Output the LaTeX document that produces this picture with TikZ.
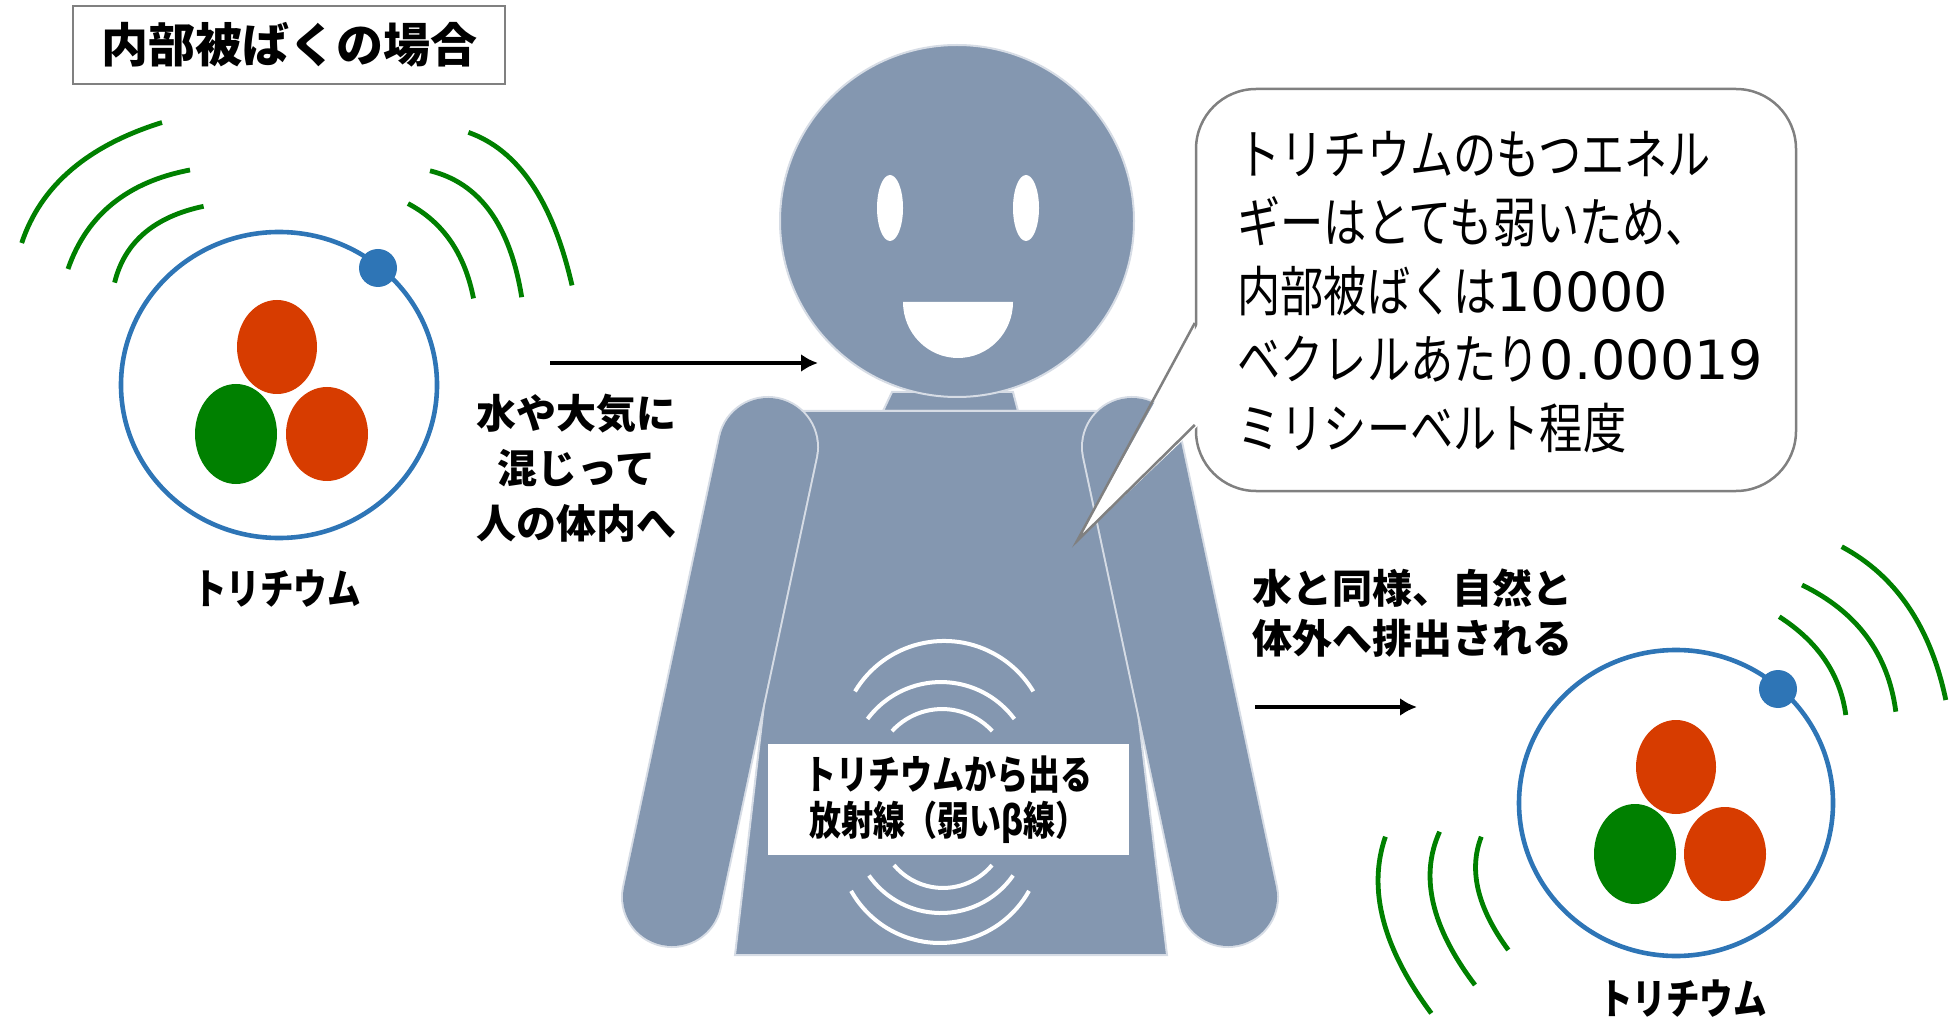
\documentclass[tikz,border=0pt]{standalone}
\usepackage{fontspec}
\usepackage{tikz}
\usetikzlibrary{arrows.meta,positioning}
\newfontfamily\jpfont{Noto Sans CJK JP}
\newfontfamily\jpnarrow{Noto Sans CJK JP}[FakeStretch=0.8]
\newfontfamily\numfont{DejaVu Sans}
\definecolor{BodySlate}{RGB}{132,151,176}
\definecolor{BodyEdge}{RGB}{214,220,229}
\definecolor{OrbitBlue}{RGB}{46,117,182}
\definecolor{ProtonRed}{RGB}{215,60,0}
\definecolor{NeutronGreen}{RGB}{0,128,0}
\definecolor{FrameGray}{RGB}{128,128,128}
\tikzset{
  titlebox/.style={draw=FrameGray,line width=1.25pt,minimum width=216pt,
    minimum height=39pt,inner sep=0pt,
    font=\jpfont\bfseries\fontsize{23.5}{28}\selectfont},
  orbit/.style={draw=OrbitBlue,line width=2.3pt},
  wave/.style={draw=NeutronGreen,line width=2.4pt},
  beta/.style={draw=white,line width=2pt},
  body/.style={fill=BodySlate,draw=BodyEdge,line width=1pt},
  armedge/.style={draw=BodyEdge,line width=51pt,line cap=round},
  armfill/.style={draw=BodySlate,line width=49pt,line cap=round},
  flow/.style={-{Latex[length=8.5pt,width=9pt]},line width=2pt,black}
}

\begin{document}
\begin{tikzpicture}[
  x=0.5pt,
  y=-0.5pt,
  atomname/.style={
    font=\jpnarrow\bfseries\fontsize{21}{25}\selectfont,
    inner sep=0pt
  },
  notetext/.style={
    font=\jpfont\bfseries\fontsize{20}{27.5}\selectfont,
    align=center,
    inner sep=0pt
  },
  bubble/.style={
    draw=FrameGray,
    fill=white,
    line width=1.25pt,
    rounded corners=30pt,
    minimum width=300pt,
    minimum height=201pt
  },
  bubbletext/.style={
    font=\jpnarrow\fontsize{27}{34.25}\selectfont,
    align=left,
    inner sep=0pt
  },
  betabox/.style={
    fill=white,
    minimum width=180.5pt,
    minimum height=55.5pt,
    inner sep=0pt,
    align=center,
    font=\jpnarrow\bfseries\fontsize{20}{23}\selectfont
  }
]
\useasboundingbox (0,0) rectangle (1954,1021);

% Heading
\node[titlebox] (title) at (289,45) {内部被ばくの場合};

% Atom on the left
\draw[wave] (21.7,243) .. controls (40.7,185.8) and (87.4,145.7) .. (162,122.5);
\draw[wave] (68,269) .. controls (86.8,214.8) and (127.5,181.8) .. (190,170);
\draw[wave] (114.6,282.6) .. controls (124.5,242.2) and (154.2,216.7) .. (203.6,206.3);
\draw[wave] (468.4,132.4) .. controls (518.1,149.9) and (552.7,200.9) .. (572,285.4);
\draw[wave] (430,170.8) .. controls (479.6,182.9) and (510.1,225.1) .. (521.7,297.2);
\draw[wave] (408,203.6) .. controls (443,222) and (464.8,253.6) .. (473.5,298.4);
\draw[orbit] (279,385) ellipse [x radius=158, y radius=153];
\fill[OrbitBlue] (378,268) circle [radius=19];
\fill[ProtonRed] (277,347) ellipse [x radius=40, y radius=47];
\fill[NeutronGreen] (236,434) ellipse [x radius=41, y radius=50];
\fill[ProtonRed] (327,434) ellipse [x radius=41, y radius=47];
\node[atomname] (tritiumA) at (277,589) {トリチウム};

% Way in
\coordinate (inA) at (550,363);
\coordinate (inB) at (818,363);
\draw[flow] (inA) -- (inB);
\node[notetext] (mixlabel) at (576,468) {水や大気に\\混じって\\人の体内へ};

% Person
\path[body] (883,411) -- (892,392) -- (1013,392) -- (1018,411) -- cycle;
\path[body] (957,221) ellipse [x radius=177, y radius=176];
\fill[white] (890,208) ellipse [x radius=13, y radius=33];
\fill[white] (1026,208) ellipse [x radius=13, y radius=33];
\fill[white] (903,302) -- (1013,302)
  arc [start angle=0, end angle=180, x radius=55, y radius=56] -- cycle;
\path[body] (798,411) -- (1102,411) -- (1167,955) -- (735,955) -- cycle;
\draw[armedge] (768,447) -- (672,897);
\draw[armfill] (768,447) -- (672,897);
\draw[armedge] (1132,447) -- (1228,897);
\draw[armfill] (1132,447) -- (1228,897);

% Weak beta rays inside the body
\draw[beta] (855,691.4) arc [start angle=-149, end angle=-31, radius=104];
\draw[beta] (867.5,719) arc [start angle=-143.4, end angle=-36.6, radius=91.5];
\draw[beta] (892,731.1) arc [start angle=-137.5, end angle=-42.5, radius=68];
\draw[beta] (992,865.1) arc [start angle=40, end angle=140, radius=64];
\draw[beta] (1013.1,875.5) arc [start angle=35, end angle=145, radius=88];
\draw[beta] (1029,890.9) arc [start angle=29.3, end angle=150.7, radius=102];
\node[betabox] (betanote) at (948.5,799.5) {トリチウムから出る\\放射線（弱いβ線）};

% Speech bubble
\node[bubble] (bubble) at (1496,290) {};
\coordinate (tailtop) at ([yshift=-16.5pt]bubble.west);
\coordinate (tailbot) at ([yshift=-67.5pt]bubble.west);
\coordinate (tailtip) at (1077,541);
\fill[white] ([xshift=2pt]tailtop) -- (tailtip) -- ([xshift=2pt]tailbot) -- cycle;
\draw[FrameGray,line width=1.25pt] (tailtop) -- (tailtip) -- (tailbot);
\node[bubbletext,anchor=west] (note) at (1237,292)
  {トリチウムのもつエネル\\
   ギーはとても弱いため、\\
   内部被ばくは{\numfont 10000}\\
   ベクレルあたり{\numfont 0.00019}\\
   ミリシーベルト程度};

% Way out
\node[notetext,align=left,anchor=west,
  font=\jpfont\bfseries\fontsize{20}{25}\selectfont] (exitlabel)
  at (1252,613) {水と同様、自然と\\体外へ排出される};
\coordinate (outA) at (1255,707);
\coordinate (outB) at (1417,707);
\draw[flow] (outA) -- (outB);

% Atom on the right
\draw[wave] (1841.7,546.7) .. controls (1895.8,575.6) and (1930.5,626.7) .. (1945.8,700);
\draw[wave] (1802,585) .. controls (1857,611.7) and (1888.3,653.9) .. (1895.8,711.7);
\draw[wave] (1779.2,616.7) .. controls (1818.1,641.7) and (1840.3,674.4) .. (1845.8,715);
\draw[wave] (1385.4,836.7) .. controls (1367.3,888.9) and (1382.6,947.8) .. (1431.3,1013.3);
\draw[wave] (1439.6,831.7) .. controls (1419.4,876.1) and (1431.2,927.2) .. (1475,985);
\draw[wave] (1481.3,836.7) .. controls (1468.3,870) and (1477.3,907.8) .. (1508.3,950);
\draw[orbit] (1676,803) ellipse [x radius=157, y radius=153];
\fill[OrbitBlue] (1778,689) circle [radius=19];
\fill[ProtonRed] (1676,767) ellipse [x radius=40, y radius=47];
\fill[NeutronGreen] (1635,854) ellipse [x radius=41, y radius=50];
\fill[ProtonRed] (1725,854) ellipse [x radius=41, y radius=47];
\node[atomname] (tritiumB) at (1683,999) {トリチウム};

\end{tikzpicture}
\end{document}
